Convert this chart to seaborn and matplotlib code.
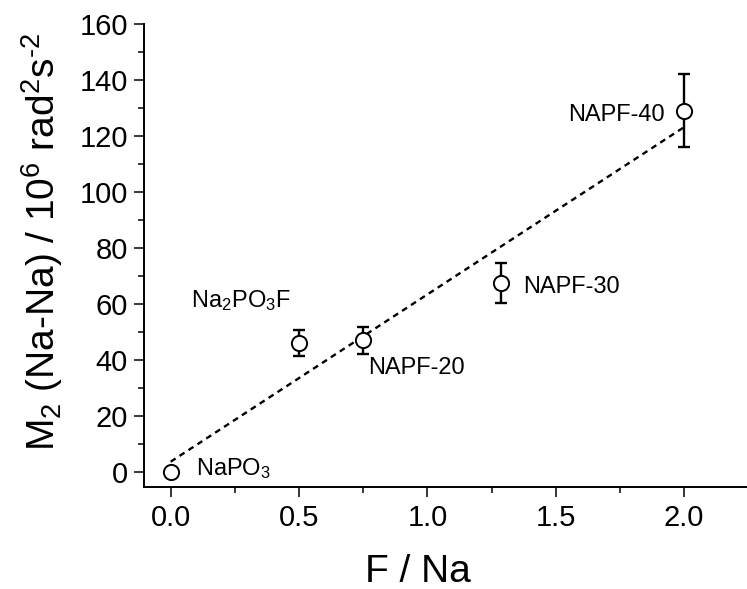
import numpy as np
import pandas as pd
import matplotlib
matplotlib.use("Agg")
import matplotlib.pyplot as plt
from matplotlib.ticker import MultipleLocator
import seaborn as sns

# ---- data ----
samples = ["NaPO$_3$", "Na$_2$PO$_3$F", "NAPF-20", "NAPF-30", "NAPF-40"]
f_na = [0.0, 0.5, 0.75, 1.2857, 2.0]
m2 = [0.0, 46.0, 47.0, 67.5, 129.0]
m2_err = [0.0, 4.7, 4.8, 7.0, 13.0]
label_x = [0.10, 0.08, 0.77, 1.373, 1.925]
label_y = [-1.0, 59.0, 35.2, 64.0, 125.5]
label_ha = ["left", "left", "left", "left", "right"]

df = pd.DataFrame({"x": f_na, "y": m2, "err": m2_err})

sns.set_theme(style="ticks")
plt.rcParams["font.family"] = ["Liberation Sans", "DejaVu Sans"]
plt.rcParams["mathtext.fontset"] = "custom"
plt.rcParams["mathtext.rm"] = "Liberation Sans"
plt.rcParams["mathtext.it"] = "Liberation Sans:italic"
plt.rcParams["mathtext.bf"] = "Liberation Sans:bold"

fig = plt.figure(figsize=(7.47, 5.89), dpi=100)
ax = fig.add_axes([0.1934, 0.1732, 0.8066, 0.7861])

# linear fit line (dashed)
sns.regplot(data=df, x="x", y="y", scatter=False, ci=None, truncate=True,
            color="black", ax=ax,
            line_kws=dict(ls=(0, (2.5, 2)), lw=1.7, zorder=1))

# error bars
ax.errorbar(df["x"], df["y"], yerr=df["err"], fmt="none", ecolor="black",
            elinewidth=1.7, capsize=4, capthick=1.7, zorder=2)

# open circles
sns.scatterplot(data=df, x="x", y="y", ax=ax, marker="o", s=120,
                facecolor="white", edgecolor="black", linewidth=1.4, zorder=3)

for name, lx, ly, ha in zip(samples, label_x, label_y, label_ha):
    ax.text(lx, ly, name, fontsize=17, ha=ha, va="baseline", color="black")

ax.set_xlim(-0.102, 2.245)
ax.set_ylim(-5.3, 160)
ax.xaxis.set_major_locator(MultipleLocator(0.5))
ax.xaxis.set_minor_locator(MultipleLocator(0.25))
ax.yaxis.set_major_locator(MultipleLocator(20))
ax.yaxis.set_minor_locator(MultipleLocator(10))
ax.set_xticks([0.0, 0.5, 1.0, 1.5, 2.0])
ax.set_xticklabels(["0.0", "0.5", "1.0", "1.5", "2.0"])

ax.tick_params(axis="both", which="major", direction="out", length=7, width=1.1,
               labelsize=21, color="black", labelcolor="black", pad=5)
ax.tick_params(axis="both", which="minor", direction="out", length=4, width=1.1,
               color="black")

for side in ["top", "right"]:
    ax.spines[side].set_visible(False)
for side in ["left", "bottom"]:
    ax.spines[side].set_linewidth(1.4)
    ax.spines[side].set_color("black")

ax.set_xlabel("F / Na", fontsize=28, color="black")
ax.xaxis.set_label_coords(0.454, -0.145)
ax.set_ylabel("M$_2$ (Na-Na) / 10$^6$ rad$^2$s$^{\\text{-}2}$", fontsize=28,
              color="black")
ax.yaxis.set_label_coords(-0.132, 0.53)

fig.savefig("out.png", dpi=100, facecolor="white")
